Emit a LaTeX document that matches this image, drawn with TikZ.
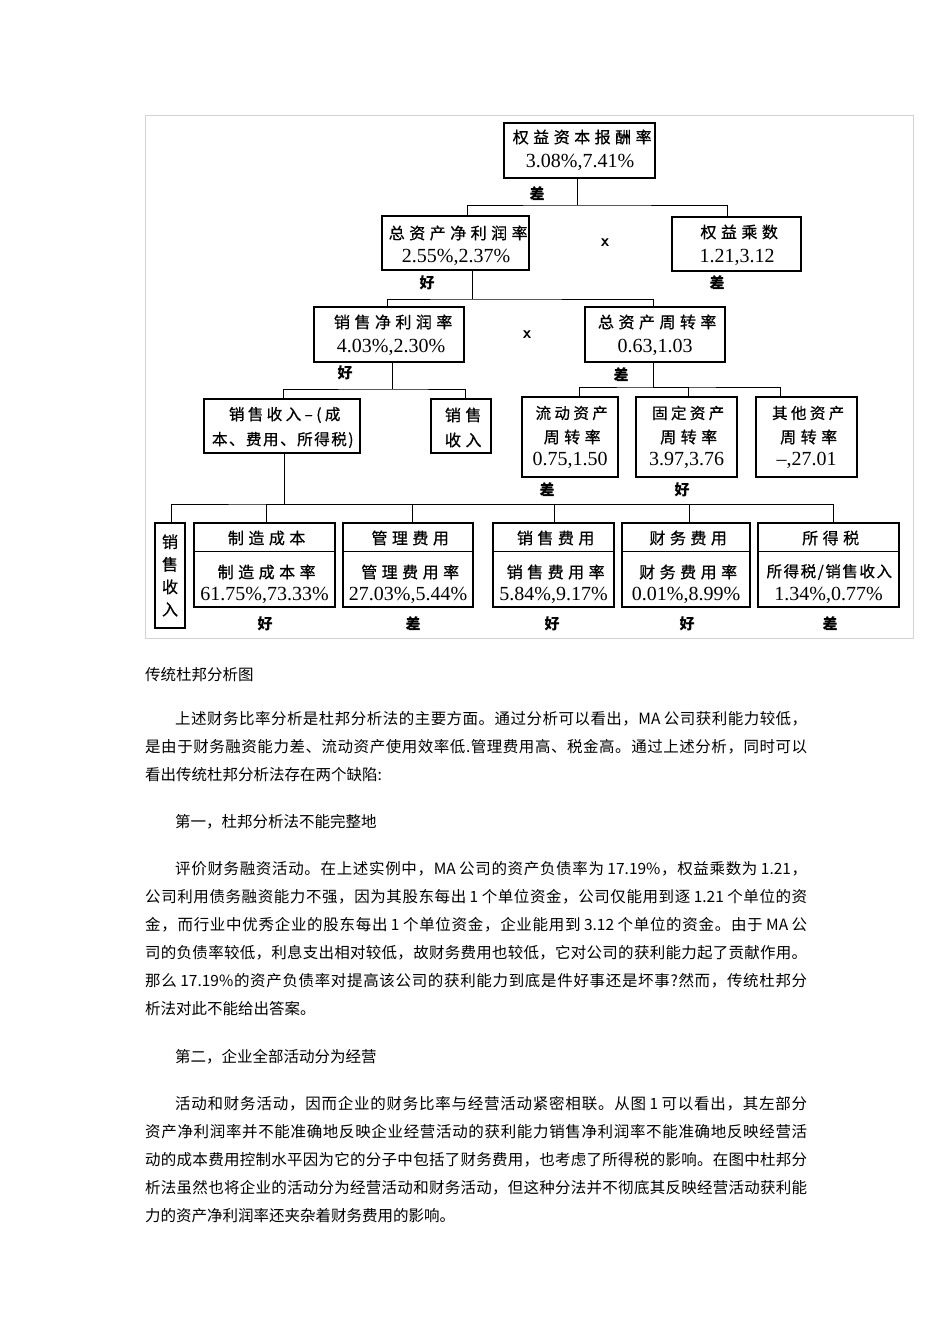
\documentclass[tikz,border=0pt]{standalone}
\usepackage{fontspec}
\setmainfont{Liberation Serif}
\newfontfamily\cjk{Noto Sans CJK SC}
\newfontfamily\dgA[LetterSpace=28,FakeBold=0.7]{Noto Sans CJK SC}
\newfontfamily\dgB[LetterSpace=10,FakeBold=0.7]{Noto Sans CJK SC}
\newfontfamily\dgC[LetterSpace=22,FakeBold=0.7]{Noto Sans CJK SC}
\newcommand\jglue{\hskip 0pt plus 1fil\relax}
\newXeTeXintercharclass\jcls
\newcount\jc
\jc="3000
\loop \XeTeXcharclass\jc=\jcls \advance\jc by 1 \ifnum\jc<"3040 \repeat
\jc="4E00
\loop \XeTeXcharclass\jc=\jcls \advance\jc by 1 \ifnum\jc<"A000 \repeat
\jc="FF00
\loop \XeTeXcharclass\jc=\jcls \advance\jc by 1 \ifnum\jc<"FFF0 \repeat
\XeTeXinterchartoks\jcls\jcls={\jglue}
\XeTeXinterchartoks 0 \jcls={\jglue}
\XeTeXinterchartoks\jcls 0 ={\jglue}
\newcommand\jline[2]{\hbox to #1{\XeTeXinterchartokenstate=1\relax #2}}
\begin{document}
\begin{tikzpicture}[x=1pt,y=-1pt,
  box/.style={draw, line width=1.1pt, inner sep=0pt},
  conn/.style={line width=1pt},
  ttl/.style={font=\dgA\fontsize{16}{18}\selectfont, inner sep=0pt, xshift=2.2},
  ttlB/.style={font=\dgB\fontsize{15.5}{18}\selectfont, inner sep=0pt, xshift=0.8},
  ttlC/.style={font=\dgC\fontsize{15.5}{18}\selectfont, inner sep=0pt, xshift=1.7},
  num/.style={font=\fontsize{20}{24}\selectfont, inner sep=0pt},
  lab/.style={font=\cjk\bfseries\fontsize{15}{18}\selectfont, inner sep=0pt},
  sym/.style={font=\sffamily\bfseries\fontsize{17}{20}\selectfont, inner sep=0pt},
  body/.style={font=\cjk\fontsize{15.5}{18}\selectfont, anchor=west, inner sep=0pt}]
\fill[white] (0,0) rectangle (950,1344);
\useasboundingbox (0,0) rectangle (950,1344);
% frame
\draw[gray!35, line width=0.8pt] (145,115) rectangle (913,638);
% row 1
\node[box, minimum width=151, minimum height=55] (n1) at (579.5,150.5) {};
\node[ttl] (n1a) at (580,137) {权益资本报酬率};
\node[num] (n1b) at (580,162) {3.08\%,7.41\%};
\node[box, minimum width=147, minimum height=54] (n2) at (455.5,243) {};
\node[ttl] (n2a) at (456,233) {总资产净利润率};
\node[num] (n2b) at (456,257) {2.55\%,2.37\%};
\node[box, minimum width=129, minimum height=54] (n3) at (736.5,244) {};
\node[ttl] (n3a) at (737,232) {权益乘数};
\node[num] (n3b) at (737,257) {1.21,3.12};
\node[sym] (x1) at (605,243) {x};
% row 2
\node[box, minimum width=150, minimum height=55] (n4) at (389,334.5) {};
\node[ttl] (n4a) at (391,322) {销售净利润率};
\node[num] (n4b) at (391,347) {4.03\%,2.30\%};
\node[box, minimum width=140, minimum height=55] (n5) at (655,334.5) {};
\node[ttl] (n5a) at (655,322) {总资产周转率};
\node[num] (n5b) at (655,347) {0.63,1.03};
\node[sym] (x2) at (527,335) {x};
% row 3
\node[box, minimum width=156, minimum height=54] (n6) at (282,426) {};
\node[ttlC] (n6a) at (283,415) {销售收入–(成};
\node[ttlB] (n6b) at (282,440) {本、费用、所得税)};
\node[box, minimum width=60, minimum height=54] (n7) at (461,426) {};
\node[ttl] (n7a) at (461,415) {销售};
\node[ttl] (n7b) at (461,440) {收入};
\node[box, minimum width=96, minimum height=80] (n8) at (570,437) {};
\node[ttlC] (n8a) at (570,413) {流动资产};
\node[ttl] (n8b) at (570,437) {周转率};
\node[num] (n8c) at (570,460) {0.75,1.50};
\node[box, minimum width=101, minimum height=80] (n9) at (686.5,437) {};
\node[ttlC] (n9a) at (686.5,413) {固定资产};
\node[ttl] (n9b) at (686.5,437) {周转率};
\node[num] (n9c) at (686.5,460) {3.97,3.76};
\node[box, minimum width=101, minimum height=80] (n10) at (806.5,437) {};
\node[ttlC] (n10a) at (806.5,413) {其他资产};
\node[ttl] (n10b) at (806.5,437) {周转率};
\node[num] (n10c) at (806.5,460) {–,27.01};
% row 4
\node[box, minimum width=30, minimum height=105, align=center,
  font=\dgB\fontsize{16}{22.5}\selectfont] (n11) at (170,575.5) {销\\售\\收\\入};
\node[box, minimum width=141, minimum height=84] (n12) at (264.5,565) {};
\node[ttl] (n12a) at (264.5,538) {制造成本};
\node[ttl] (n12b) at (264.5,572) {制造成本率};
\node[num] (n12c) at (264.5,595) {61.75\%,73.33\%};
\node[box, minimum width=130, minimum height=84] (n13) at (408,565) {};
\node[ttl] (n13a) at (408,538) {管理费用};
\node[ttl] (n13b) at (408,572) {管理费用率};
\node[num] (n13c) at (408,595) {27.03\%,5.44\%};
\node[box, minimum width=121, minimum height=84] (n14) at (553.5,565) {};
\node[ttl] (n14a) at (553.5,538) {销售费用};
\node[ttl] (n14b) at (553.5,572) {销售费用率};
\node[num] (n14c) at (553.5,595) {5.84\%,9.17\%};
\node[box, minimum width=128, minimum height=84] (n15) at (686,565) {};
\node[ttl] (n15a) at (686,538) {财务费用};
\node[ttl] (n15b) at (686,572) {财务费用率};
\node[num] (n15c) at (686,595) {0.01\%,8.99\%};
\node[box, minimum width=141, minimum height=84] (n16) at (828.5,565) {};
\node[ttl] (n16a) at (828.5,538) {所得税};
\node[ttlB] (n16b) at (828.5,572) {所得税/销售收入};
\node[num] (n16c) at (828.5,595) {1.34\%,0.77\%};
\foreach \n in {n12,n13,n14,n15,n16}
  \draw[conn] ([yshift=-29]\n.north west) -- ([yshift=-29]\n.north east);
% labels
\node[lab] (l1) at (537,194) {差};
\node[lab] (l2) at (427,283) {好};
\node[lab] (l3) at (717,283) {差};
\node[lab] (l4) at (345,373) {好};
\node[lab] (l5) at (621,375) {差};
\node[lab] (l6) at (547,490) {差};
\node[lab] (l7) at (682,490) {好};
\node[lab] (l8) at (265,624) {好};
\node[lab] (l9) at (413,624) {差};
\node[lab] (l10) at (552,624) {好};
\node[lab] (l11) at (687,624) {好};
\node[lab] (l12) at (830,624) {差};
% connectors
\coordinate (j1) at (577,205);
\draw[conn] ([xshift=-2.5]n1.south) -- (j1);
\draw[conn] ([xshift=11.5]n2.north) |- (j1) -| ([xshift=-9.5]n3.north);
\coordinate (j2) at (472,299);
\draw[conn] ([xshift=16.5]n2.south) -- (j2);
\draw[conn] ([xshift=-2]n4.north) |- (j2) -| ([xshift=-2]n5.north);
\coordinate (j3) at (392,389);
\draw[conn] ([xshift=3]n4.south) -- (j3);
\draw[conn] ([xshift=1]n6.north) |- (j3) -| ([xshift=4]n7.north);
\coordinate (j4) at (653,387);
\draw[conn] ([xshift=-2]n5.south) -- (j4);
\draw[conn] ([xshift=9]n8.north) |- (j4) -| ([xshift=-26.5]n10.north);
\draw[conn] ([xshift=1.5]n9.north) |- (j4);
\coordinate (j5) at (284,504);
\draw[conn] ([xshift=2]n6.south) -- (j5);
\draw[conn] ([xshift=1]n11.north) |- (j5) -| ([xshift=4.5]n16.north);
\draw[conn] ([xshift=1.5]n12.north) |- (j5);
\draw[conn] ([xshift=4]n13.north) |- (j5);
\draw[conn] ([xshift=0.5]n14.north) |- (j5);
\draw[conn] ([xshift=3]n15.north) |- (j5);
% body text
\node[body] (c0) at (145,675) {传统杜邦分析图};
\node[body] (p1a) at (175,719) {\jline{632pt}{上述财务比率分析是杜邦分析法的主要方面。通过分析可以看出，MA 公司获利能力较低，}};
\node[body] (p1b) at (145,747) {\jline{662pt}{是由于财务融资能力差、流动资产使用效率低.管理费用高、税金高。通过上述分析，同时可以}};
\node[body] (p1c) at (145,775) {看出传统杜邦分析法存在两个缺陷:};
\node[body] (h1) at (175,822) {第一，杜邦分析法不能完整地};
\node[body] (p2a) at (175,869) {\jline{632pt}{评价财务融资活动。在上述实例中，MA 公司的资产负债率为 17.19\%，权益乘数为 1.21，}};
\node[body] (p2b) at (145,897) {\jline{662pt}{公司利用债务融资能力不强，因为其股东每出 1 个单位资金，公司仅能用到逐 1.21 个单位的资}};
\node[body] (p2c) at (145,925) {\jline{662pt}{金，而行业中优秀企业的股东每出 1 个单位资金，企业能用到 3.12 个单位的资金。由于 MA 公}};
\node[body] (p2d) at (145,953) {\jline{662pt}{司的负债率较低，利息支出相对较低，故财务费用也较低，它对公司的获利能力起了贡献作用。}};
\node[body] (p2e) at (145,981) {\jline{662pt}{那么 17.19\%的资产负债率对提高该公司的获利能力到底是件好事还是坏事?然而，传统杜邦分}};
\node[body] (p2f) at (145,1009) {析法对此不能给出答案。};
\node[body] (h2) at (175,1057) {第二，企业全部活动分为经营};
\node[body] (p3a) at (175,1104) {\jline{632pt}{活动和财务活动，因而企业的财务比率与经营活动紧密相联。从图 1 可以看出，其左部分}};
\node[body] (p3b) at (145,1132) {\jline{662pt}{资产净利润率并不能准确地反映企业经营活动的获利能力销售净利润率不能准确地反映经营活}};
\node[body] (p3c) at (145,1160) {\jline{662pt}{动的成本费用控制水平因为它的分子中包括了财务费用，也考虑了所得税的影响。在图中杜邦分}};
\node[body] (p3d) at (145,1188) {\jline{662pt}{析法虽然也将企业的活动分为经营活动和财务活动，但这种分法并不彻底其反映经营活动获利能}};
\node[body] (p3e) at (145,1216) {力的资产净利润率还夹杂着财务费用的影响。};
\end{tikzpicture}
\end{document}
